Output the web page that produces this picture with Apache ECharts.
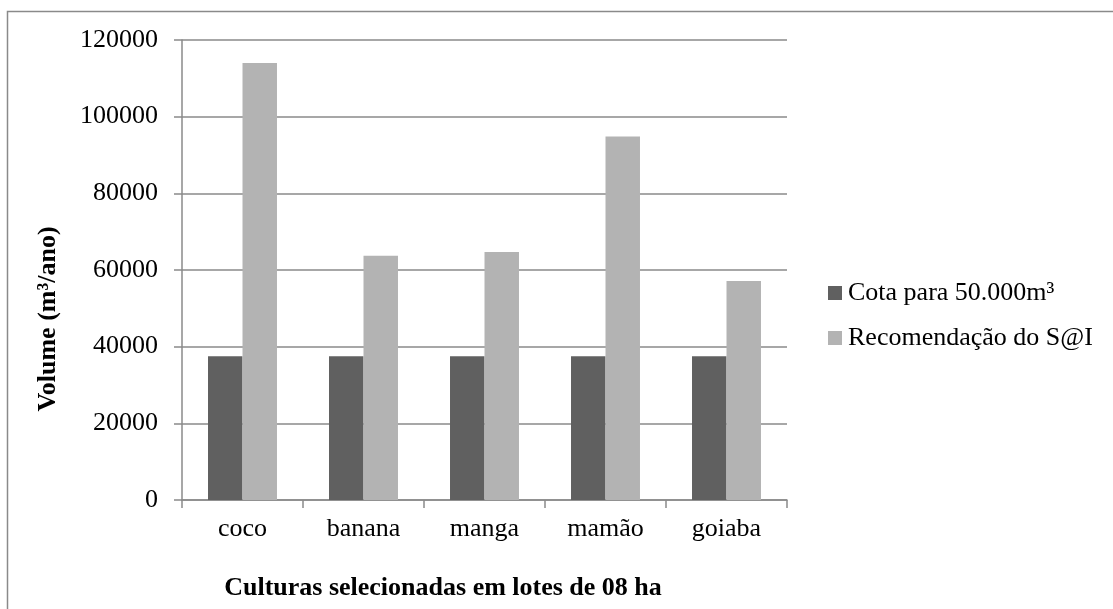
<!DOCTYPE html>
<html>
<head>
<meta charset="utf-8">
<script src="https://cdn.jsdelivr.net/npm/echarts@6/dist/echarts.min.js"></script>
<style>
html,body{margin:0;padding:0;background:#fff;}
#chart{width:1113px;height:609px;}
</style>
</head>
<body>
<div id="chart"></div>
<script>
var categories = ['coco', 'banana', 'manga', 'mamão', 'goiaba'];
var cotaValues = [37500, 37500, 37500, 37500, 37500];
var recomendacaoValues = [114000, 63700, 64700, 94800, 57100];
var seriesNames = ['Cota para 50.000m³', 'Recomendação do S@I'];
var yAxisTitle = 'Volume (m³/ano)';
var xAxisTitle = 'Culturas selecionadas em lotes de 08 ha';

var FONT = '"Liberation Serif", "DejaVu Serif", serif';
var AXIS = '#8a8a8a';

var chart = echarts.init(document.getElementById('chart'), null, {renderer: 'canvas'});
chart.setOption({
  backgroundColor: '#ffffff',
  animation: false,
  grid: {left: 182, right: 326, top: 40, bottom: 109, containLabel: false},
  legend: {
    orient: 'vertical',
    left: 828,
    top: 280,
    padding: 0,
    itemWidth: 14,
    itemHeight: 14,
    itemGap: 19,
    icon: 'rect',
    textStyle: {fontFamily: FONT, fontSize: 26, color: '#000', lineHeight: 26, padding: [0, 0, 0, 1]},
    data: seriesNames
  },
  xAxis: {
    type: 'category',
    data: categories,
    axisLine: {lineStyle: {color: AXIS, width: 1.5}},
    axisTick: {show: true, length: 8, lineStyle: {color: AXIS, width: 1.5}},
    axisLabel: {fontFamily: FONT, fontSize: 26, color: '#000', margin: 16}
  },
  yAxis: {
    type: 'value',
    min: 0,
    max: 120000,
    interval: 20000,
    axisLine: {show: true, lineStyle: {color: AXIS, width: 1.5}},
    axisTick: {show: true, length: 8, lineStyle: {color: AXIS, width: 1.5}},
    splitLine: {show: true, lineStyle: {color: AXIS, width: 1.5}},
    axisLabel: {
      fontFamily: FONT, fontSize: 26, color: '#000', margin: 24,
      formatter: function (v) { return String(v); }
    }
  },
  series: [
    {
      name: seriesNames[0],
      type: 'bar',
      data: cotaValues,
      barGap: '0%',
      barCategoryGap: '43%',
      itemStyle: {color: '#606060'}
    },
    {
      name: seriesNames[1],
      type: 'bar',
      data: recomendacaoValues,
      barGap: '0%',
      barCategoryGap: '43%',
      itemStyle: {color: '#b3b3b3'}
    }
  ],
  graphic: [
    {
      type: 'rect',
      silent: true,
      shape: {x: 7.5, y: 11.5, width: 1200, height: 700},
      style: {fill: null, stroke: '#8a8a8a', lineWidth: 1.5}
    },
    {
      type: 'text',
      x: 48,
      y: 319,
      rotation: Math.PI / 2,
      style: {
        text: yAxisTitle,
        fontFamily: FONT,
        fontSize: 26,
        fontWeight: 'bold',
        fill: '#000',
        align: 'center',
        verticalAlign: 'middle'
      }
    },
    {
      type: 'text',
      x: 443,
      y: 588,
      style: {
        text: xAxisTitle,
        fontFamily: FONT,
        fontSize: 26,
        fontWeight: 'bold',
        fill: '#000',
        align: 'center',
        verticalAlign: 'middle'
      }
    }
  ]
});
</script>
</body>
</html>
